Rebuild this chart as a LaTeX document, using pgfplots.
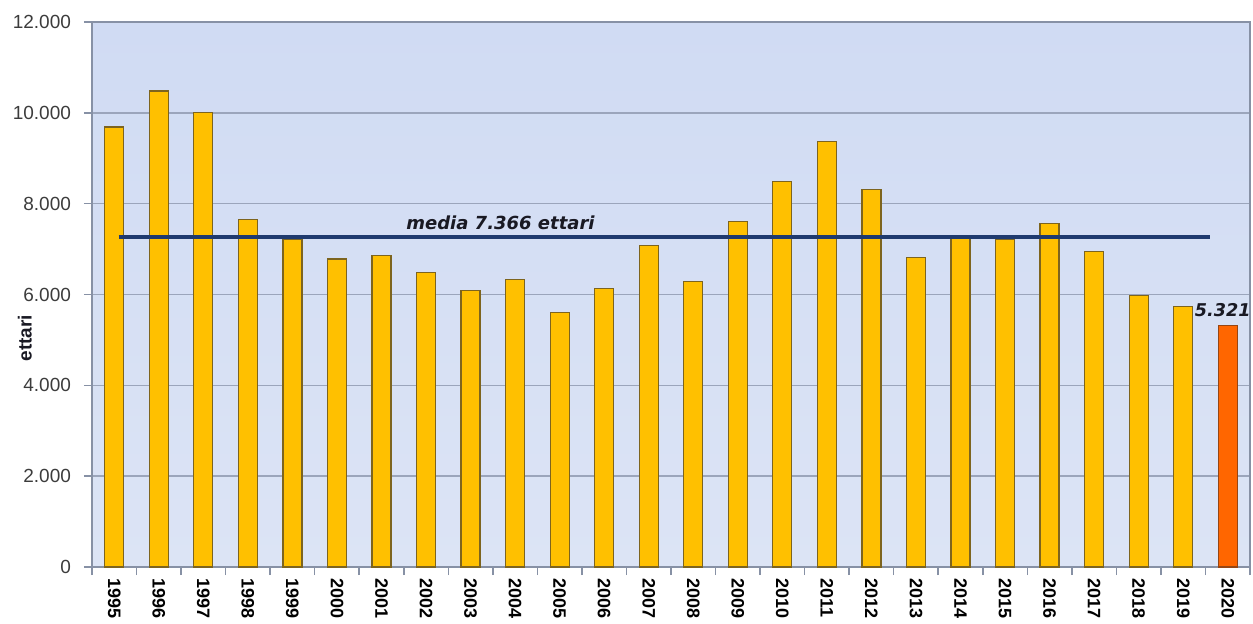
\documentclass[border=0pt]{standalone}
\usepackage{pgfplots}
\pgfplotsset{compat=1.18}
\usepackage{fontspec}
\setmainfont{Liberation Sans}
\newfontfamily\dejavu{DejaVu Sans}
\definecolor{baryellow}{RGB}{255,192,0}
\definecolor{baredge}{RGB}{125,100,30}
\definecolor{barorange}{RGB}{255,102,0}
\definecolor{orangeedge}{RGB}{150,70,20}
\definecolor{meanc}{RGB}{31,58,110}
\definecolor{gridc}{RGB}{155,165,187}
\definecolor{framec}{RGB}{135,145,165}
\definecolor{bgtop}{RGB}{208,219,243}
\definecolor{bgbot}{RGB}{220,228,245}
\definecolor{tickc}{RGB}{60,60,60}
\definecolor{labelc}{RGB}{25,25,35}
\begin{document}
\begin{tikzpicture}
\begin{axis}[
  name=ax,
  scale only axis, width=579pt, height=272.5pt,
  xmin=-0.5, xmax=25.5, ymin=0, ymax=12000,
  axis background/.style={top color=bgtop, bottom color=bgbot},
  axis line style={draw=framec, line width=0.8pt},
  ytick={0,2000,...,12000},
  scaled y ticks=false,
  ymajorgrids, grid style={draw=gridc, line width=0.8pt},
  xtick={-0.5,0.5,...,25.5}, xticklabels={},
  extra x ticks={0,1,2,3,4,5,6,7,8,9,10,11,12,13,14,15,16,17,18,19,20,21,22,23,24,25},
  extra x tick labels={1995,1996,1997,1998,1999,2000,2001,2002,2003,2004,2005,2006,2007,2008,2009,2010,2011,2012,2013,2014,2015,2016,2017,2018,2019,2020},
  extra x tick style={tick style={draw=none}},
  xticklabel style={rotate=-90, anchor=west, inner sep=1.5pt, font=\bfseries\fontsize{9}{10}\selectfont, text=black},
  tick align=outside, tick pos=left,
  major tick length=4pt,
  tick style={draw=framec, line width=0.8pt},
  yticklabel style={font=\fontsize{9.5}{11}\selectfont, text=tickc, xshift=-3pt},
  /pgf/number format/1000 sep={.},
  /pgf/number format/assume math mode=true,
  ylabel={ettari},
  ylabel style={at={(rel axis cs:-0.0579,0.42)}, anchor=center, font=\bfseries\fontsize{9.5}{11}\selectfont, text=labelc},
  clip=false,
]
\addplot[ybar, bar width=9.5pt, bar shift=0pt, fill=baryellow, draw=baredge, line width=0.6pt] coordinates {
(0,9690) (1,10480) (2,10000) (3,7650) (4,7210) (5,6780) (6,6860) (7,6480) (8,6090) (9,6330)
(10,5600) (11,6130) (12,7080) (13,6290) (14,7600) (15,8480) (16,9370) (17,8310) (18,6810) (19,7230)
(20,7210) (21,7560) (22,6940) (23,5980) (24,5730)};
\addplot[ybar, bar width=9.5pt, bar shift=0pt, fill=barorange, draw=orangeedge, line width=0.6pt,
  nodes near coords={5.321},
  nodes near coords style={font=\dejavu\bfseries\itshape\fontsize{8.8}{10}\selectfont, text=labelc, yshift=3pt, xshift=-2.5pt, inner sep=1pt}] coordinates {(25,5321)};
\addplot[draw=meanc, line width=2pt] coordinates {(0.1,7260) (24.6,7260)};
\node[font=\dejavu\bfseries\itshape\fontsize{9}{10}\selectfont, text=labelc] at (axis cs:8.67,7580) {media 7.366 ettari};
\end{axis}
\pgfresetboundingbox
\path[use as bounding box] ([shift={(-46pt,-28pt)}]ax.south west) rectangle ([shift={(1.5pt,11pt)}]ax.north east);
\end{tikzpicture}
\end{document}
